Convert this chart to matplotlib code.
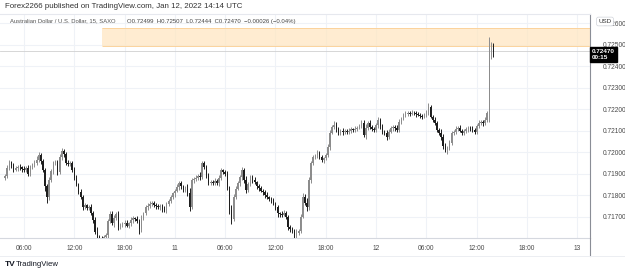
import numpy as np
import pandas as pd
import matplotlib
matplotlib.use("Agg")
import matplotlib.pyplot as plt
from matplotlib.lines import Line2D

plt.rcParams['font.family'] = ['Liberation Sans', 'DejaVu Sans']

# AUD/USD 15 min bars, prices in 0.00001 above 0.70000
start = "2022-01-10 03:45"
first_open = 1880
closes = [
    1890, 1925, 1952, 1940, 1918, 1925, 1932, 1928, 1922, 1915, 1925, 1900, 1930, 1942, 1950, 1962, 1985, 1958, 1915, 1840, 1790, 1868, 1910, 1948,
    1952, 1905, 1975, 2005, 1990, 1950, 1945, 1950, 1918, 1880, 1850, 1815, 1790, 1745, 1752, 1740, 1745, 1715, 1682, 1630, 1605, 1600, 1598, 1604,
    1612, 1680, 1712, 1668, 1695, 1712, 1650, 1660, 1665, 1672, 1658, 1668, 1685, 1692, 1688, 1680, 1640, 1695, 1715, 1742, 1750, 1758, 1762, 1755,
    1748, 1742, 1750, 1735, 1728, 1760, 1772, 1790, 1808, 1820, 1835, 1855, 1840, 1822, 1830, 1808, 1742, 1868, 1875, 1880, 1890, 1883, 1948, 1930,
    1890, 1855, 1862, 1858, 1865, 1854, 1880, 1915, 1905, 1900, 1836, 1728, 1690, 1790, 1830, 1855, 1885, 1915, 1868, 1822, 1850, 1883, 1870, 1859,
    1840, 1831, 1820, 1812, 1800, 1789, 1782, 1775, 1760, 1742, 1714, 1712, 1709, 1715, 1700, 1650, 1640, 1634, 1605, 1625, 1634, 1700, 1789, 1765,
    1742, 1868, 1948, 1976, 1985, 1995, 1975, 1962, 1970, 1985, 2023, 2090, 2117, 2127, 2105, 2089, 2100, 2092, 2098, 2094, 2100, 2105, 2103, 2108,
    2113, 2120, 2136, 2080, 2110, 2136, 2118, 2108, 2103, 2125, 2150, 2120, 2095, 2089, 2070, 2095, 2110, 2117, 2110, 2103, 2141, 2155, 2174, 2178,
    2183, 2178, 2183, 2180, 2175, 2174, 2168, 2164, 2175, 2183, 2211, 2164, 2150, 2136, 2103, 2090, 2070, 2030, 2009, 2020, 2042, 2089, 2095, 2108,
    2113, 2100, 2089, 2098, 2105, 2113, 2108, 2103, 2095, 2120, 2136, 2141, 2135, 2150, 2183, 2490, 2499, 2470,
]
wick_up = [
    10, 15, 12, 8, 10, 12, 6, 10, 8, 12, 10, 15, 10, 8, 12, 20, 15, 10, 8, 10, 12, 15, 10, 8,
    12, 10, 15, 12, 10, 8, 12, 10, 8, 10, 12, 8, 15, 10, 12, 8, 10, 12, 10, 15, 20, 8, 10, 12,
    10, 8, 15, 12, 10, 8, 15, 10, 8, 12, 10, 8, 12, 10, 8, 15, 10, 12, 8, 10, 12, 15, 8, 10,
    10, 12, 8, 10, 15, 8, 10, 12, 8, 10, 15, 12, 10, 8, 12, 20, 25, 10, 8, 12, 10, 15, 12, 8,
    10, 12, 8, 10, 12, 8, 15, 10, 8, 12, 10, 8, 25, 15, 10, 12, 8, 15, 10, 20, 12, 8, 10, 12,
    8, 10, 12, 8, 10, 15, 8, 10, 12, 8, 10, 8, 12, 15, 10, 8, 12, 10, 8, 15, 10, 12, 20, 15,
    20, 15, 10, 12, 8, 15, 10, 12, 8, 10, 15, 12, 10, 18, 12, 10, 8, 12, 10, 8, 12, 10, 8, 12,
    10, 8, 12, 15, 20, 10, 12, 8, 10, 12, 15, 10, 12, 8, 15, 10, 12, 8, 10, 15, 12, 10, 8, 12,
    8, 10, 12, 8, 10, 12, 8, 10, 8, 12, 15, 10, 8, 12, 10, 8, 15, 12, 10, 8, 12, 10, 8, 12,
    10, 12, 8, 10, 12, 10, 8, 12, 10, 8, 12, 10, 8, 12, 10, 45, 12, 8,
]
wick_dn = [
    12, 10, 8, 15, 10, 8, 12, 10, 15, 8, 10, 12, 10, 8, 10, 12, 8, 15, 10, 20, 25, 12, 8, 10,
    10, 12, 8, 10, 15, 12, 10, 8, 12, 10, 8, 12, 10, 15, 8, 12, 10, 8, 12, 10, 15, 20, 25, 15,
    20, 10, 12, 8, 15, 10, 12, 8, 10, 12, 8, 10, 12, 15, 10, 8, 20, 10, 12, 8, 10, 12, 8, 10,
    12, 8, 10, 12, 8, 10, 12, 8, 10, 15, 8, 10, 12, 8, 10, 12, 15, 8, 12, 10, 8, 12, 10, 8,
    12, 10, 8, 12, 10, 8, 10, 12, 8, 10, 12, 15, 25, 12, 10, 8, 12, 15, 10, 12, 8, 10, 12, 8,
    10, 12, 8, 10, 12, 8, 10, 12, 8, 10, 15, 12, 10, 8, 12, 15, 10, 12, 25, 15, 12, 10, 8, 12,
    15, 10, 12, 8, 10, 12, 8, 10, 12, 8, 10, 12, 8, 10, 12, 10, 8, 12, 10, 8, 12, 10, 8, 10,
    12, 8, 10, 12, 20, 8, 10, 12, 8, 10, 12, 15, 10, 8, 12, 10, 8, 10, 12, 8, 10, 12, 8, 10,
    10, 12, 8, 10, 12, 8, 10, 12, 8, 10, 12, 8, 10, 12, 8, 10, 12, 15, 10, 20, 12, 10, 8, 12,
    10, 8, 12, 10, 8, 10, 12, 8, 10, 12, 8, 10, 12, 8, 10, 43, 58, 26,
]

# supply/demand zone drawn on the chart
zone_start = "2022-01-10 15:15"
zone_bottom = 0.72493
zone_top = 0.72577

tick_times = pd.date_range("2022-01-10 06:00", periods=12, freq="6h")
tick_labels = ["06:00", "12:00", "18:00", "11", "06:00", "12:00", "18:00",
               "12", "06:00", "12:00", "18:00", "13"]
price_ticks = [0.717, 0.718, 0.719, 0.720, 0.721, 0.722, 0.723, 0.724, 0.725, 0.726]

c = np.array(closes) / 1e5 + 0.7
o = np.r_[first_open / 1e5 + 0.7, c[:-1]]
h = np.maximum(o, c) + np.array(wick_up) / 1e5
l = np.minimum(o, c) - np.array(wick_dn) / 1e5
x = np.arange(len(c))
t0 = pd.Timestamp(start)
step = pd.Timedelta("15min")

W, H = 625, 271
fig = plt.figure(figsize=(W / 100, H / 100), dpi=100)
ax = fig.add_axes([0, (H - 238) / H, 590 / W, (238 - 14) / H])
ax.set_xlim(-2.43, 279.06)
ax.set_ylim(0.71600, 0.72642)
ax.set_axisbelow(True)

up = c >= o
col = np.where(up, '#8c8c8c', '#1e1e1e')
ax.vlines(x, l, h, colors=col, lw=0.7, zorder=3)
ax.bar(x, np.maximum(np.abs(c - o), 0.00002), bottom=np.minimum(o, c), width=0.7,
       color=col, edgecolor='none', zorder=4)

zs = (pd.Timestamp(zone_start) - t0) / step
xr = ax.get_xlim()[1]
ax.fill_between([zs, xr], zone_bottom, zone_top, color='#ffe6c2', alpha=0.75, zorder=1, lw=0)
ax.hlines([zone_bottom, zone_top], zs, xr, colors='#fbd39c', lw=0.7, zorder=1)

ax.axhline(c[-1], color='#d0d0d0', lw=0.6, zorder=2)

ax.set_xticks([(t - t0) / step for t in tick_times], tick_labels)
ax.yaxis.tick_right()
ax.set_yticks(price_ticks, [f"{p:.5f}" for p in price_ticks])
ax.tick_params(axis='x', length=0, pad=5, labelsize=4.8, labelcolor='#4a4a4a')
ax.tick_params(axis='y', length=0, pad=9, labelsize=4.8, labelcolor='#4a4a4a')
ax.grid(True, color='#eff2f7', lw=0.8)
ax.spines['left'].set_visible(False)
ax.spines['top'].set_color('#e6e8ee')
ax.spines['bottom'].set_color('#d5d8df')
ax.spines['right'].set_color('#8a8d96')
ax.spines['right'].set_linewidth(0.8)

# price axis divider continues through the time scale row
fig.add_artist(Line2D([590 / W, 590 / W], [(H - 256) / H, (H - 238) / H],
                      color='#8a8d96', lw=0.8))
fig.add_artist(Line2D([0, 1], [(H - 256) / H, (H - 256) / H], color='#eceef2', lw=0.7))

# last price label
ax.annotate(f"{c[-1]:.5f}\n00:15", xy=(1.0, c[-1]), xycoords=('axes fraction', 'data'),
            xytext=(1.5, -2.5), textcoords='offset points', ha='left', va='center',
            fontsize=4.6, color='white', fontweight='bold', linespacing=1.2,
            bbox=dict(boxstyle='square,pad=0.35', fc='black', ec='black'),
            annotation_clip=False, zorder=10)

fig.text(605 / W, 1 - 21.5 / H, "USD", fontsize=4.5, color='#333333', ha='center', va='center',
         bbox=dict(boxstyle='round,pad=0.3', fc='white', ec='#d0d3da', lw=0.5))

fig.text(5 / W, 1 - 6 / H, "Forex2266 published on TradingView.com, Jan 12, 2022 14:14 UTC",
         fontsize=5.7, color='#333333', va='center')
fig.text(10 / W, 1 - 21 / H, "Australian Dollar / U.S. Dollar, 15, SAXO",
         fontsize=4.2, color='#555555', va='center')
fig.text(127 / W, 1 - 21 / H,
         "O0.72499  H0.72507  L0.72444  C0.72470  \u22120.00026 (\u22120.04%)",
         fontsize=4.3, color='#444444', va='center')

fig.text(5 / W, 1 - 264 / H, "TV", fontsize=6, fontweight='bold', color='#131722', va='center')
fig.text(16 / W, 1 - 264 / H, "TradingView", fontsize=5.6, color='#131722', va='center')

fig.savefig("out.png", dpi=100)
